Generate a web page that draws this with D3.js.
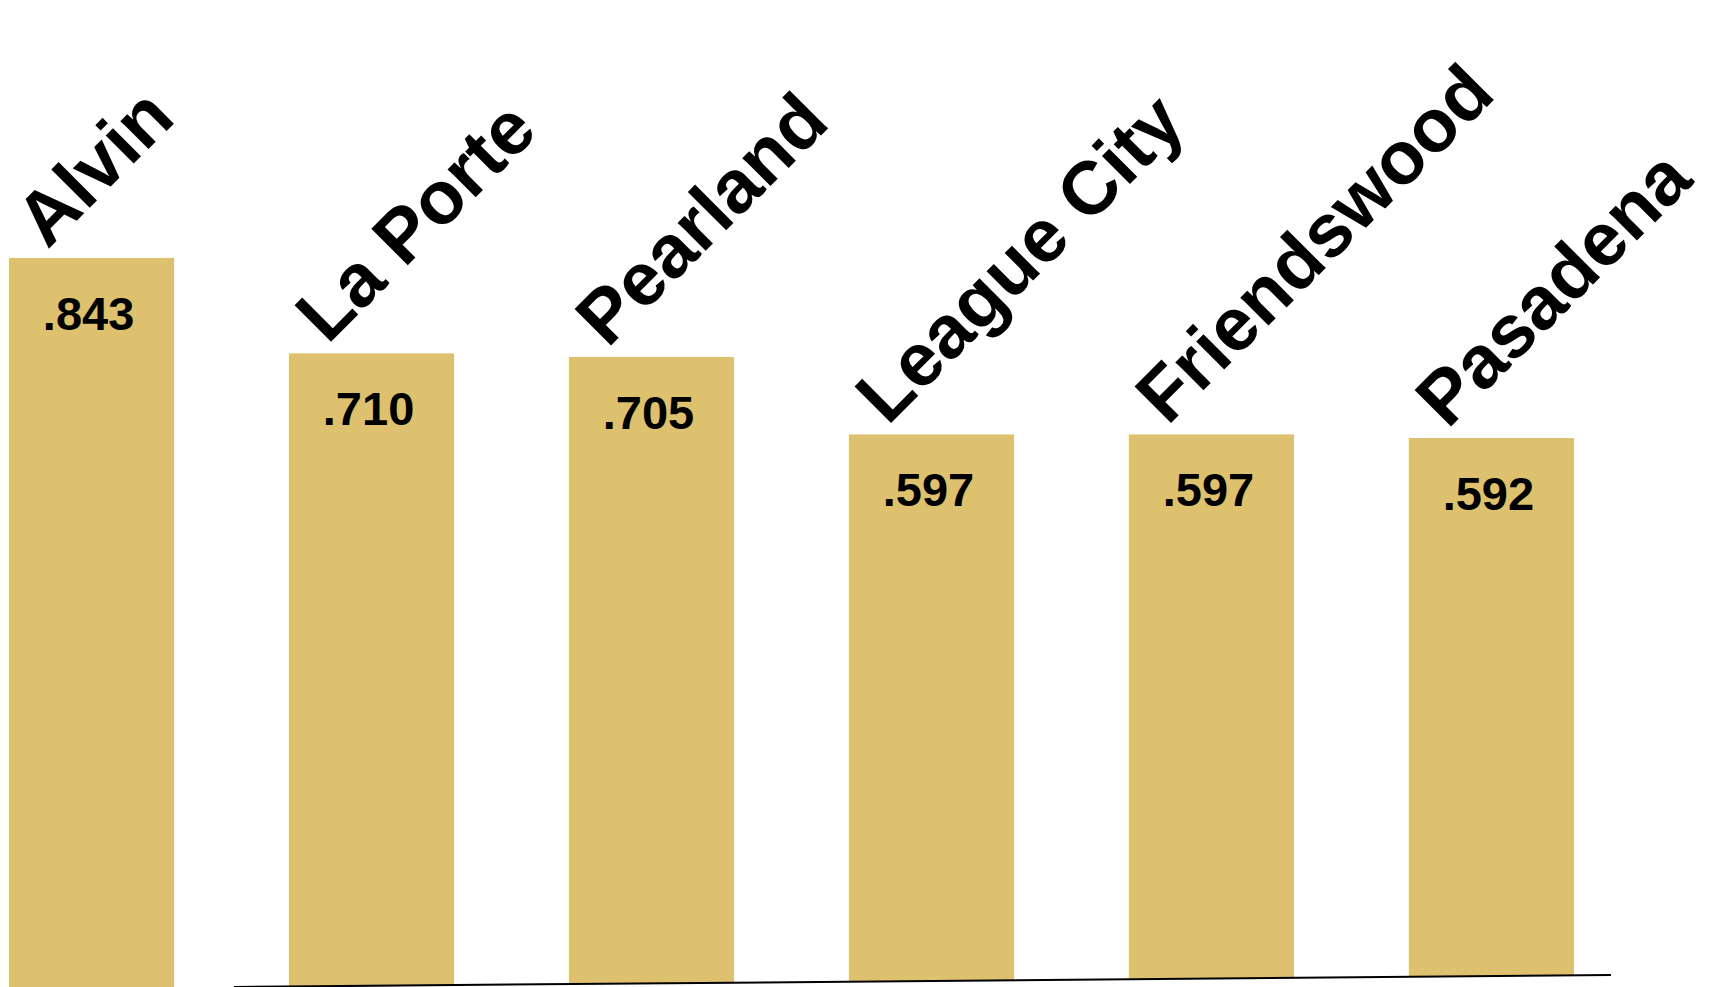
<!DOCTYPE html>
<html>
<head>
<meta charset="utf-8">
<script src="https://cdn.jsdelivr.net/npm/d3@7/dist/d3.min.js"></script>
<style>
  html, body { margin: 0; padding: 0; background: #ffffff; overflow: hidden; }
  svg { display: block; }
  .city { font-family: "Liberation Sans", Arial, sans-serif; font-weight: bold; font-size: 75px; fill: #000; }
  .value { font-family: "Liberation Sans", Arial, sans-serif; font-weight: bold; font-size: 47px; fill: #000; }
</style>
</head>
<body>
<script>

// Win percentage per city, as printed on the bars
const cities = ["Alvin", "La Porte", "Pearland", "League City", "Friendswood", "Pasadena"];
const winPct = [0.843, 0.710, 0.705, 0.597, 0.597, 0.592];
const valueLabels = [".843", ".710", ".705", ".597", ".597", ".592"];

const width = 1710;
const height = 987;

const svg = d3.select("body").append("svg")
    .attr("width", width)
    .attr("height", height);

// bars sit across the page, no outer padding
const x = d3.scaleBand()
    .domain(cities)
    .range([9, 1574])
    .paddingInner(0.41)
    .paddingOuter(0);

// value scale (the chart doesn't start at zero)
const y = d3.scaleLinear()
    .domain([0.5, 0.9])
    .range([504, 217]);

// the baseline is drawn slightly tilted, bars end on it
const base = d3.scaleLinear()
    .domain([234, 1611])
    .range([987, 975]);

const bars = svg.append("g").classed("bars", true);

bars.selectAll("rect")
    .data(cities)
    .enter()
    .append("rect")
    .attr("x", d => x(d))
    .attr("y", (d, i) => y(winPct[i]))
    .attr("width", x.bandwidth())
    .attr("height", (d, i) => base(x(d) + x.bandwidth() / 2) - y(winPct[i]))
    .attr("fill", "#DDC16E");

// value labels inside the bar tops
bars.selectAll(".value")
    .data(cities)
    .enter()
    .append("text")
    .classed("value", true)
    .attr("x", d => x(d) + x.bandwidth() / 2 - 3)
    .attr("y", (d, i) => y(winPct[i]) + 72)
    .attr("text-anchor", "middle")
    .text((d, i) => valueLabels[i]);

// city names, tilted 45 degrees above each bar
bars.selectAll(".city")
    .data(cities)
    .enter()
    .append("text")
    .classed("city", true)
    .attr("transform", (d, i) => {
        let cx = x(d) + x.bandwidth() / 2 - 44;
        let cy = y(winPct[i]) - 8;
        return "translate(" + cx + "," + cy + ")rotate(-45)";
    })
    .text(d => d);

// tilted baseline
svg.append("line")
    .attr("x1", 234)
    .attr("y1", base(234))
    .attr("x2", 1611)
    .attr("y2", base(1611))
    .attr("stroke", "#000")
    .attr("stroke-width", 2);

</script>
</body>
</html>
